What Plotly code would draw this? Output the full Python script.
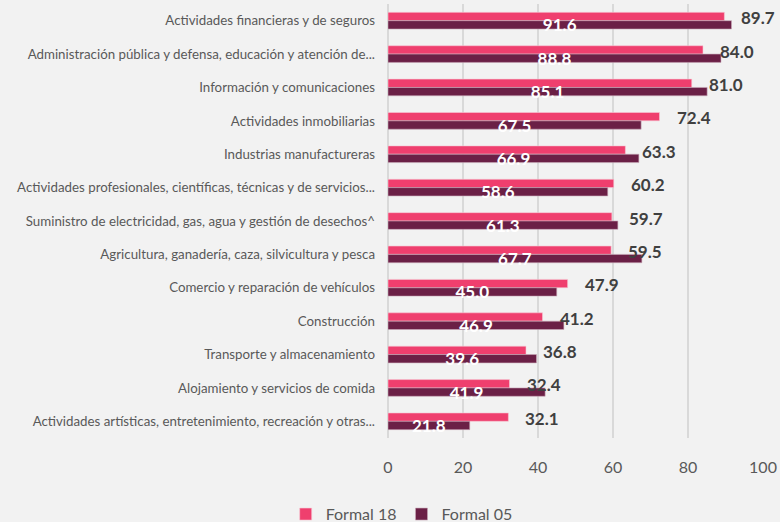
import plotly.graph_objects as go

categories = [
    "Actividades financieras y de seguros",
    "Administración pública y defensa, educación y atención de...",
    "Información y comunicaciones",
    "Actividades inmobiliarias",
    "Industrias manufactureras",
    "Actividades profesionales, científicas, técnicas y de servicios...",
    "Suministro de electricidad, gas, agua y gestión de desechos^",
    "Agricultura, ganadería, caza, silvicultura y pesca",
    "Comercio y reparación de vehículos",
    "Construcción",
    "Transporte y almacenamiento",
    "Alojamiento y servicios de comida",
    "Actividades artísticas, entretenimiento, recreación y otras...",
]
formal_18 = [89.7, 84.0, 81.0, 72.4, 63.3, 60.2, 59.7, 59.5, 47.9, 41.2, 36.8, 32.4, 32.1]
formal_05 = [91.6, 88.8, 85.1, 67.5, 66.9, 58.6, 61.3, 67.7, 45.0, 46.9, 39.6, 41.9, 21.8]

PINK = "#EF3F6E"
MAROON = "#6B2046"
BG = "#F2F2F2"
FONT = "Lato"

fig = go.Figure()
fig.add_trace(go.Bar(
    y=categories, x=formal_18, orientation="h", name="Formal 18",
    marker=dict(color=PINK, line=dict(color="#F6C9D5", width=0.6)),
))
fig.add_trace(go.Bar(
    y=categories, x=formal_05, orientation="h", name="Formal 05",
    marker=dict(color=MAROON, line=dict(color="#C9A9B9", width=0.6)),
    text=[f"{v:.1f}" for v in formal_05], texttemplate="%{text}",
    textposition="inside", insidetextanchor="middle", textangle=0,
    constraintext="none",
    textfont=dict(family=FONT, size=17, color="white", weight="bold"),
))

# Formal 18 labels sit to the right of the pink bar, centered on the group
for cat, v in zip(categories, formal_18):
    fig.add_annotation(
        x=v, y=cat, text=f"<b>{v:.1f}</b>", showarrow=False,
        xanchor="left", xshift=15, yshift=3,
        font=dict(family=FONT, size=17, color="#404040"),
    )

fig.update_layout(
    width=780, height=522,
    paper_bgcolor=BG, plot_bgcolor=BG,
    barmode="group", bargap=0.5, bargroupgap=0,
    margin=dict(l=388, r=17, t=4, b=84),
    font=dict(family=FONT, color="#595959"),
    showlegend=True,
    legend=dict(
        orientation="h", xref="container", yref="container",
        x=0.515, xanchor="center", y=0.015, yanchor="middle",
        font=dict(size=16, color="#595959"), traceorder="normal",
        itemwidth=30,
    ),
    xaxis=dict(
        range=[0, 100], tickvals=[0, 20, 40, 60, 80, 100],
        showgrid=True, gridcolor="#D9D9D9", gridwidth=1.5,
        zeroline=True, zerolinecolor="#D9D9D9", zerolinewidth=1.5,
        tickfont=dict(size=16, color="#595959"), ticklabelstandoff=18,
        showline=False,
    ),
    yaxis=dict(
        autorange="reversed", tickfont=dict(size=13.3, color="#595959"),
        ticklabelstandoff=12, showgrid=False,
    ),
)

fig.write_html(
    "out.html",
    config={"displayModeBar": False},
    post_script="document.body.style.margin='0';",
)
